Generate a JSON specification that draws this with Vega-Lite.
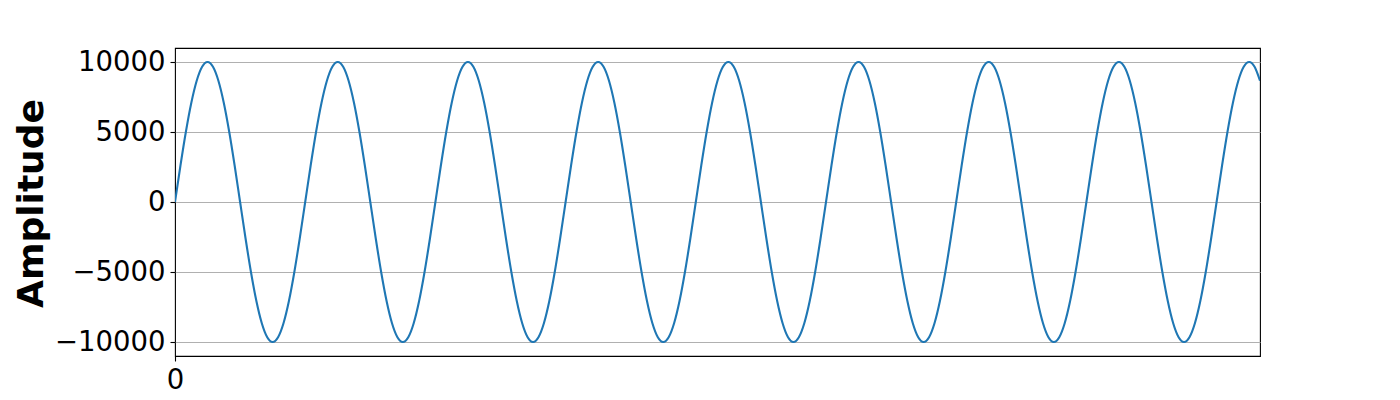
{
  "$schema": "https://vega.github.io/schema/vega-lite/v6.json",
  "autosize": {"type": "none"},
  "padding": {"left": 175, "top": 48, "right": 140, "bottom": 44},
  "width": 1085,
  "height": 308,
  "background": "white",
  "config": {
    "view": {"stroke": "black", "strokeWidth": 1.1},
    "font": "DejaVu Sans",
    "axis": {
      "labelFont": "DejaVu Sans",
      "labelFontSize": 27.5,
      "labelColor": "black",
      "tickColor": "black",
      "tickWidth": 1.1,
      "tickSize": 5,
      "labelPadding": 5,
      "domain": false
    }
  },
  "data": {"values": [
    {"x":0,"y":0},{"x":1,"y":2588},{"x":2,"y":5000},{"x":3,"y":7071},{"x":4,"y":8660},{"x":5,"y":9659},{"x":6,"y":10000},{"x":7,"y":9659},{"x":8,"y":8660},{"x":9,"y":7071},{"x":10,"y":5000},{"x":11,"y":2588},{"x":12,"y":0},{"x":13,"y":-2588},{"x":14,"y":-5000},{"x":15,"y":-7071},{"x":16,"y":-8660},{"x":17,"y":-9659},{"x":18,"y":-10000},{"x":19,"y":-9659},{"x":20,"y":-8660},{"x":21,"y":-7071},{"x":22,"y":-5000},{"x":23,"y":-2588},
    {"x":24,"y":0},{"x":25,"y":2588},{"x":26,"y":5000},{"x":27,"y":7071},{"x":28,"y":8660},{"x":29,"y":9659},{"x":30,"y":10000},{"x":31,"y":9659},{"x":32,"y":8660},{"x":33,"y":7071},{"x":34,"y":5000},{"x":35,"y":2588},{"x":36,"y":0},{"x":37,"y":-2588},{"x":38,"y":-5000},{"x":39,"y":-7071},{"x":40,"y":-8660},{"x":41,"y":-9659},{"x":42,"y":-10000},{"x":43,"y":-9659},{"x":44,"y":-8660},{"x":45,"y":-7071},{"x":46,"y":-5000},{"x":47,"y":-2588},
    {"x":48,"y":0},{"x":49,"y":2588},{"x":50,"y":5000},{"x":51,"y":7071},{"x":52,"y":8660},{"x":53,"y":9659},{"x":54,"y":10000},{"x":55,"y":9659},{"x":56,"y":8660},{"x":57,"y":7071},{"x":58,"y":5000},{"x":59,"y":2588},{"x":60,"y":0},{"x":61,"y":-2588},{"x":62,"y":-5000},{"x":63,"y":-7071},{"x":64,"y":-8660},{"x":65,"y":-9659},{"x":66,"y":-10000},{"x":67,"y":-9659},{"x":68,"y":-8660},{"x":69,"y":-7071},{"x":70,"y":-5000},{"x":71,"y":-2588},
    {"x":72,"y":0},{"x":73,"y":2588},{"x":74,"y":5000},{"x":75,"y":7071},{"x":76,"y":8660},{"x":77,"y":9659},{"x":78,"y":10000},{"x":79,"y":9659},{"x":80,"y":8660},{"x":81,"y":7071},{"x":82,"y":5000},{"x":83,"y":2588},{"x":84,"y":0},{"x":85,"y":-2588},{"x":86,"y":-5000},{"x":87,"y":-7071},{"x":88,"y":-8660},{"x":89,"y":-9659},{"x":90,"y":-10000},{"x":91,"y":-9659},{"x":92,"y":-8660},{"x":93,"y":-7071},{"x":94,"y":-5000},{"x":95,"y":-2588},
    {"x":96,"y":0},{"x":97,"y":2588},{"x":98,"y":5000},{"x":99,"y":7071},{"x":100,"y":8660},{"x":101,"y":9659},{"x":102,"y":10000},{"x":103,"y":9659},{"x":104,"y":8660},{"x":105,"y":7071},{"x":106,"y":5000},{"x":107,"y":2588},{"x":108,"y":0},{"x":109,"y":-2588},{"x":110,"y":-5000},{"x":111,"y":-7071},{"x":112,"y":-8660},{"x":113,"y":-9659},{"x":114,"y":-10000},{"x":115,"y":-9659},{"x":116,"y":-8660},{"x":117,"y":-7071},{"x":118,"y":-5000},{"x":119,"y":-2588},
    {"x":120,"y":0},{"x":121,"y":2588},{"x":122,"y":5000},{"x":123,"y":7071},{"x":124,"y":8660},{"x":125,"y":9659},{"x":126,"y":10000},{"x":127,"y":9659},{"x":128,"y":8660},{"x":129,"y":7071},{"x":130,"y":5000},{"x":131,"y":2588},{"x":132,"y":0},{"x":133,"y":-2588},{"x":134,"y":-5000},{"x":135,"y":-7071},{"x":136,"y":-8660},{"x":137,"y":-9659},{"x":138,"y":-10000},{"x":139,"y":-9659},{"x":140,"y":-8660},{"x":141,"y":-7071},{"x":142,"y":-5000},{"x":143,"y":-2588},
    {"x":144,"y":0},{"x":145,"y":2588},{"x":146,"y":5000},{"x":147,"y":7071},{"x":148,"y":8660},{"x":149,"y":9659},{"x":150,"y":10000},{"x":151,"y":9659},{"x":152,"y":8660},{"x":153,"y":7071},{"x":154,"y":5000},{"x":155,"y":2588},{"x":156,"y":0},{"x":157,"y":-2588},{"x":158,"y":-5000},{"x":159,"y":-7071},{"x":160,"y":-8660},{"x":161,"y":-9659},{"x":162,"y":-10000},{"x":163,"y":-9659},{"x":164,"y":-8660},{"x":165,"y":-7071},{"x":166,"y":-5000},{"x":167,"y":-2588},
    {"x":168,"y":0},{"x":169,"y":2588},{"x":170,"y":5000},{"x":171,"y":7071},{"x":172,"y":8660},{"x":173,"y":9659},{"x":174,"y":10000},{"x":175,"y":9659},{"x":176,"y":8660},{"x":177,"y":7071},{"x":178,"y":5000},{"x":179,"y":2588},{"x":180,"y":0},{"x":181,"y":-2588},{"x":182,"y":-5000},{"x":183,"y":-7071},{"x":184,"y":-8660},{"x":185,"y":-9659},{"x":186,"y":-10000},{"x":187,"y":-9659},{"x":188,"y":-8660},{"x":189,"y":-7071},{"x":190,"y":-5000},{"x":191,"y":-2588},
    {"x":192,"y":0},{"x":193,"y":2588},{"x":194,"y":5000},{"x":195,"y":7071},{"x":196,"y":8660},{"x":197,"y":9659},{"x":198,"y":10000},{"x":199,"y":9659},{"x":200,"y":8660}
  ]},
  "mark": {"type": "line", "color": "#1f77b4", "strokeWidth": 2.1, "interpolate": "monotone", "clip": true},
  "encoding": {
    "x": {
      "field": "x", "type": "quantitative",
      "scale": {"domain": [0, 200], "nice": false, "zero": false},
      "axis": {"values": [0], "grid": false, "title": null, "labelBaseline": "top", "labelAlign": "center"}
    },
    "y": {
      "field": "y", "type": "quantitative",
      "scale": {"domain": [-11000, 11000], "nice": false},
      "axis": {
        "values": [-10000, -5000, 0, 5000, 10000],
        "grid": true, "gridColor": "#b0b0b0", "gridWidth": 1.1, "gridOpacity": 1,
        "format": "d",
        "title": "Amplitude",
        "titleFont": "DejaVu Sans", "titleFontSize": 36, "titleFontWeight": "bold", "titleColor": "black",
        "titleAngle": -90, "titleAlign": "center", "titleBaseline": "alphabetic",
        "titleX": -133, "titleY": 155
      }
    }
  }
}
